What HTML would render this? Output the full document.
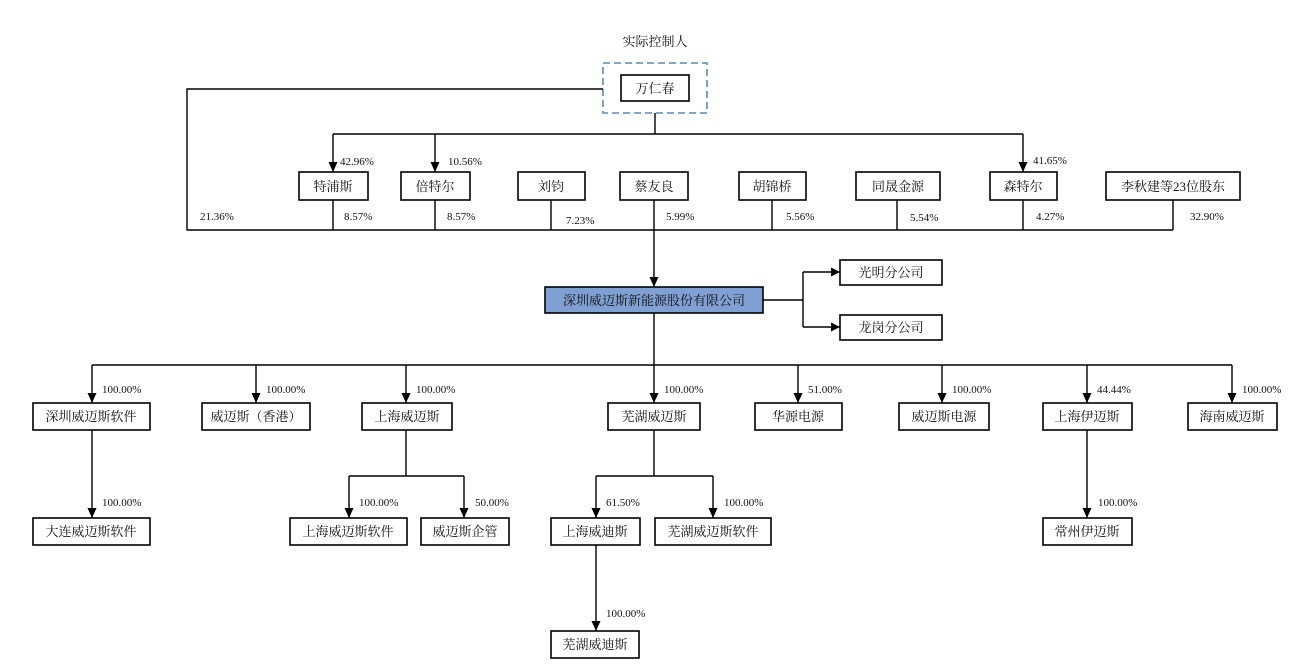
<!DOCTYPE html>
<html><head><meta charset="utf-8"><style>
html,body{margin:0;padding:0;background:#fff;}
svg{display:block;}
.b{fill:#fff;stroke:#000;stroke-width:1.6;}
.t{font-family:"Liberation Serif","Noto Serif CJK SC",serif;font-size:13px;text-anchor:middle;fill:#111;}
.p{font-family:"Liberation Serif","Noto Serif CJK SC",serif;font-size:11px;fill:#111;}
.l{stroke:#000;stroke-width:1.4;fill:none;}
</style></head><body>
<svg width="1292" height="668" viewBox="0 0 1292 668" xmlns="http://www.w3.org/2000/svg">
<defs><marker id="a" markerWidth="9" markerHeight="9" refX="9" refY="4.5" orient="0" markerUnits="userSpaceOnUse"><path d="M0,0 L9,4.5 L0,9 z" fill="#000"/></marker>
<marker id="d" viewBox="0 0 10 10" markerWidth="10" markerHeight="10" refX="5" refY="10" orient="0" markerUnits="userSpaceOnUse"><path d="M0.5,0 L9.5,0 L5,10 z" fill="#000"/></marker></defs>

<text class="t" x="655" y="46">实际控制人</text>
<rect x="603" y="63" width="104" height="50" fill="none" stroke="#5a8ab5" stroke-width="1.6" stroke-dasharray="7,4"/>
<rect class="b" x="621" y="75" width="68" height="26"/><text class="t" x="655" y="93">万仁春</text>

<path class="l" d="M603,89 H187 V230 H1173"/>
<path class="l" d="M655,113 V134 M333,134 H1023"/>
<path class="l" d="M333,134 V172" marker-end="url(#d)"/>
<path class="l" d="M435,134 V172" marker-end="url(#d)"/>
<path class="l" d="M1023,134 V172" marker-end="url(#d)"/>
<text class="p" x="340" y="165">42.96%</text>
<text class="p" x="448" y="165">10.56%</text>
<text class="p" x="1033" y="164">41.65%</text>

<g>
<rect class="b" x="299" y="172" width="69" height="28"/><text class="t" x="333" y="191">特浦斯</text>
<rect class="b" x="401" y="172" width="69" height="28"/><text class="t" x="435" y="191">倍特尔</text>
<rect class="b" x="518" y="172" width="67" height="28"/><text class="t" x="551" y="191">刘钧</text>
<rect class="b" x="620" y="172" width="68" height="28"/><text class="t" x="654" y="191">蔡友良</text>
<rect class="b" x="739" y="172" width="67" height="28"/><text class="t" x="772" y="191">胡锦桥</text>
<rect class="b" x="856" y="172" width="84" height="28"/><text class="t" x="898" y="191">同晟金源</text>
<rect class="b" x="990" y="172" width="67" height="28"/><text class="t" x="1023" y="191">森特尔</text>
<rect class="b" x="1106" y="172" width="134" height="28"/><text class="t" x="1173" y="191">李秋建等23位股东</text>
</g>
<path class="l" d="M333,200V230 M435,200V230 M551,200V230 M772,200V230 M897,200V230 M1023,200V230 M1173,200V230"/>
<text class="p" x="200" y="220">21.36%</text>
<text class="p" x="344" y="220">8.57%</text>
<text class="p" x="447" y="220">8.57%</text>
<text class="p" x="566" y="224">7.23%</text>
<text class="p" x="666" y="220">5.99%</text>
<text class="p" x="786" y="220">5.56%</text>
<text class="p" x="910" y="221">5.54%</text>
<text class="p" x="1036" y="220">4.27%</text>
<text class="p" x="1190" y="220">32.90%</text>

<path class="l" d="M654,200 V287" marker-end="url(#d)"/>
<rect x="545" y="287" width="218" height="26" fill="#809fd3" stroke="#000" stroke-width="1.6"/>
<text class="t" x="654" y="305">深圳威迈斯新能源股份有限公司</text>
<path class="l" d="M763,300 H803 M803,272 V327"/>
<path class="l" d="M803,272 H840" marker-end="url(#a)"/>
<path class="l" d="M803,327 H840" marker-end="url(#a)"/>
<rect class="b" x="840" y="260" width="102" height="25"/><text class="t" x="891" y="277">光明分公司</text>
<rect class="b" x="840" y="315" width="102" height="25"/><text class="t" x="891" y="332">龙岗分公司</text>

<path class="l" d="M654,313 V365 M92,365 H1232"/>
<g>
<path class="l" d="M92,365V403" marker-end="url(#d)"/>
<path class="l" d="M256,365V403" marker-end="url(#d)"/>
<path class="l" d="M406,365V403" marker-end="url(#d)"/>
<path class="l" d="M654,365V403" marker-end="url(#d)"/>
<path class="l" d="M798,365V403" marker-end="url(#d)"/>
<path class="l" d="M942,365V403" marker-end="url(#d)"/>
<path class="l" d="M1087,365V403" marker-end="url(#d)"/>
<path class="l" d="M1232,365V403" marker-end="url(#d)"/>
</g>
<text class="p" x="102" y="393">100.00%</text>
<text class="p" x="266" y="393">100.00%</text>
<text class="p" x="416" y="393">100.00%</text>
<text class="p" x="664" y="393">100.00%</text>
<text class="p" x="808" y="393">51.00%</text>
<text class="p" x="952" y="393">100.00%</text>
<text class="p" x="1097" y="393">44.44%</text>
<text class="p" x="1242" y="393">100.00%</text>

<rect class="b" x="33" y="403" width="117" height="27"/><text class="t" x="91" y="421">深圳威迈斯软件</text>
<rect class="b" x="202" y="403" width="108" height="27"/><text class="t" x="256" y="421">威迈斯（香港）</text>
<rect class="b" x="362" y="403" width="90" height="27"/><text class="t" x="407" y="421">上海威迈斯</text>
<rect class="b" x="608" y="403" width="92" height="27"/><text class="t" x="654" y="421">芜湖威迈斯</text>
<rect class="b" x="755" y="403" width="87" height="27"/><text class="t" x="798" y="421">华源电源</text>
<rect class="b" x="899" y="403" width="90" height="27"/><text class="t" x="944" y="421">威迈斯电源</text>
<rect class="b" x="1043" y="403" width="89" height="27"/><text class="t" x="1087" y="421">上海伊迈斯</text>
<rect class="b" x="1188" y="403" width="89" height="27"/><text class="t" x="1232" y="421">海南威迈斯</text>

<path class="l" d="M92,430V518" marker-end="url(#d)"/>
<path class="l" d="M406,430V476 M349,476H464"/>
<path class="l" d="M349,476V518" marker-end="url(#d)"/>
<path class="l" d="M464,476V518" marker-end="url(#d)"/>
<path class="l" d="M654,430V476 M596,476H713"/>
<path class="l" d="M596,476V518" marker-end="url(#d)"/>
<path class="l" d="M713,476V518" marker-end="url(#d)"/>
<path class="l" d="M1087,430V518" marker-end="url(#d)"/>
<text class="p" x="102" y="506">100.00%</text>
<text class="p" x="359" y="506">100.00%</text>
<text class="p" x="475" y="506">50.00%</text>
<text class="p" x="606" y="506">61.50%</text>
<text class="p" x="724" y="506">100.00%</text>
<text class="p" x="1098" y="506">100.00%</text>

<rect class="b" x="33" y="518" width="117" height="27"/><text class="t" x="91" y="536">大连威迈斯软件</text>
<rect class="b" x="290" y="518" width="117" height="27"/><text class="t" x="348" y="536">上海威迈斯软件</text>
<rect class="b" x="421" y="518" width="88" height="27"/><text class="t" x="465" y="536">威迈斯企管</text>
<rect class="b" x="551" y="518" width="89" height="27"/><text class="t" x="595" y="536">上海威迪斯</text>
<rect class="b" x="655" y="518" width="116" height="27"/><text class="t" x="713" y="536">芜湖威迈斯软件</text>
<rect class="b" x="1043" y="518" width="89" height="27"/><text class="t" x="1087" y="536">常州伊迈斯</text>

<path class="l" d="M596,545V631" marker-end="url(#d)"/>
<text class="p" x="606" y="617">100.00%</text>
<rect class="b" x="551" y="631" width="88" height="27"/><text class="t" x="595" y="649">芜湖威迪斯</text>
</svg>
</body></html>
